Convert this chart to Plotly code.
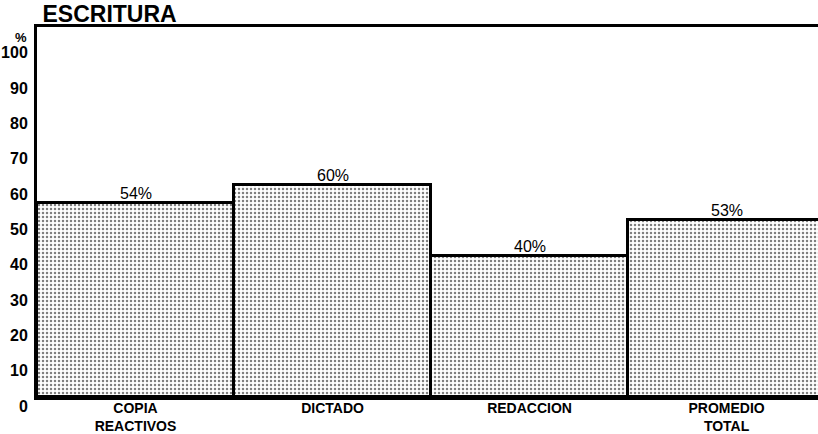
import plotly.graph_objects as go

categories = ["COPIA<br>REACTIVOS", "DICTADO", "REDACCION", "PROMEDIO<br>TOTAL"]
bar_heights = [55, 60, 40, 50]          # drawn heights
value_labels = ["54%", "60%", "40%", "53%"]  # printed labels above the bars
tick_vals = [0, 10, 20, 30, 40, 50, 60, 70, 80, 90, 100]
tick_text = ["0", "10", "20", "30", "40", "50", "60", "70", "80", "90", "100"]

FONT = "Liberation Sans, Arial, sans-serif"

fig = go.Figure()
fig.add_trace(go.Bar(
    x=categories,
    y=bar_heights,
    width=1,
    marker=dict(
        color="white",
        line=dict(color="black", width=3),
        pattern=dict(shape=".", fgcolor="black", bgcolor="white", size=4, solidity=0.3),
    ),
    hoverinfo="skip",
))

for c, h, t in zip(categories, bar_heights, value_labels):
    fig.add_annotation(x=c, y=h, text=t, showarrow=False, yanchor="bottom", yshift=-1,
                       font=dict(family=FONT, size=16, color="black"))

fig.add_annotation(xref="paper", yref="paper", x=0, y=1.0, xanchor="right", yanchor="middle",
                   text="<b>%</b>", showarrow=False, xshift=-8, yshift=-10,
                   font=dict(family=FONT, size=13, color="black"))

fig.update_layout(
    width=818, height=434,
    margin=dict(l=37, r=0, t=27, b=37),
    paper_bgcolor="white", plot_bgcolor="white",
    bargap=0,
    showlegend=False,
    title=dict(text="<b>ESCRITURA</b>", x=0.052, xanchor="left", y=0.967, yanchor="middle",
               font=dict(family=FONT, size=23, color="black")),
    xaxis=dict(
        range=[-0.5, 3.464], showgrid=False, zeroline=False, automargin=False,
        showline=True, linecolor="black", linewidth=3, mirror=True,
        ticks="", ticklabelstandoff=-4, tickfont=dict(family=FONT, size=14, color="black"),
        tickprefix="<b>", ticksuffix="</b>",
    ),
    yaxis=dict(
        range=[0, 104.7], showgrid=False, zeroline=False, automargin=False,
        showline=True, linecolor="black", linewidth=3,
        tickvals=tick_vals, ticktext=["<b>" + t + "</b>" for t in tick_text],
        ticks="", ticklabelshift=9, ticklabelstandoff=3,
        tickfont=dict(family=FONT, size=16, color="black"),
    ),
)

fig.write_html("out.html")
